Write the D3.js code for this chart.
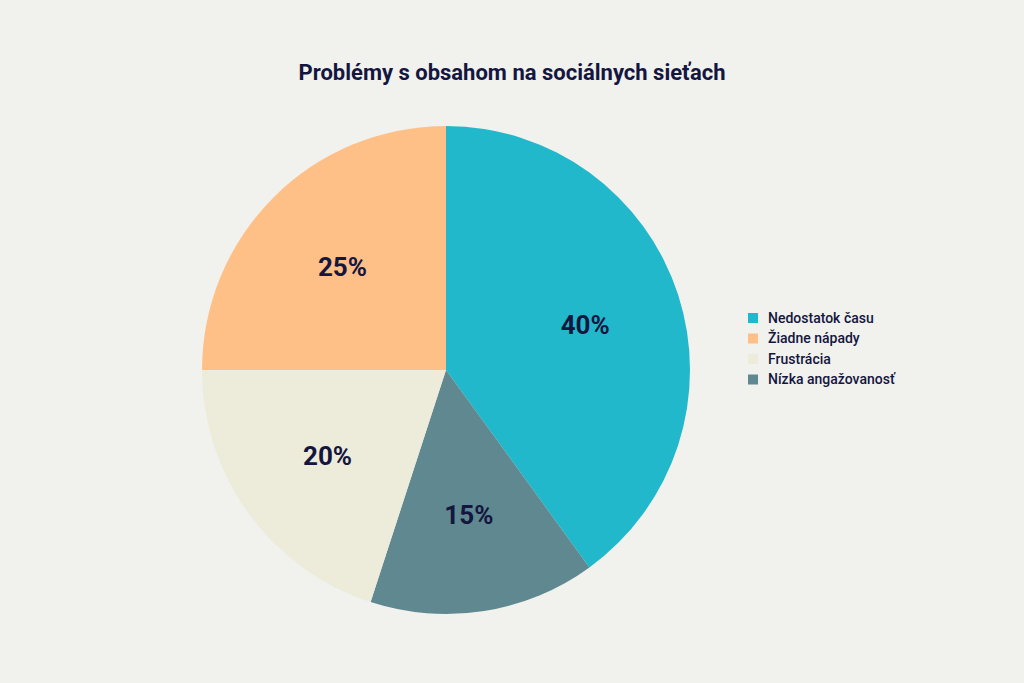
<!DOCTYPE html>
<html><head><meta charset="utf-8">
<script src="https://cdn.jsdelivr.net/npm/d3@7"></script>
<style>body{margin:0;background:#f1f1ed;font-family:Roboto,sans-serif;}</style>
</head><body>
<svg id="chart" width="1024" height="683"></svg>
<script>
const categories = ["Nedostatok času", "Žiadne nápady", "Frustrácia", "Nízka angažovanosť"];
const values = [40, 25, 20, 15];
const colors = ["#22b8cc", "#ffc088", "#edebd9", "#5f8890"];
// drawing order clockwise from top
const pieOrder = [0, 3, 2, 1];

const svg = d3.select("#chart");
svg.append("rect").attr("width", 1024).attr("height", 683).attr("fill", "#f1f1ed");

svg.append("text").attr("x", 512).attr("y", 80).attr("text-anchor", "middle")
  .attr("font-size", 22).attr("font-weight", 700).attr("fill", "#14163f")
  .text("Problémy s obsahom na sociálnych sieťach");

const cx = 446, cy = 370, r = 244;
const pie = d3.pie().sort(null).value(i => values[i]);
const arc = d3.arc().innerRadius(0).outerRadius(r);
const labelArc = d3.arc().innerRadius(r * 0.6).outerRadius(r * 0.6);
const g = svg.append("g").attr("transform", `translate(${cx},${cy})`);
const arcs = pie(pieOrder);
g.selectAll("path").data(arcs).join("path")
  .attr("d", arc).attr("fill", d => colors[d.data]);
g.selectAll("text").data(arcs).join("text")
  .attr("transform", d => `translate(${labelArc.centroid(d)})`)
  .attr("text-anchor", "middle").attr("dy", "0.35em")
  .attr("font-size", 26).attr("font-weight", 700).attr("fill", "#14163f")
  .text(d => values[d.data] + "%");

const leg = svg.append("g").attr("transform", "translate(748,318)");
categories.forEach((c, i) => {
  const row = leg.append("g").attr("transform", `translate(0,${i * 20.5})`);
  row.append("rect").attr("x", 0).attr("y", -5).attr("width", 10).attr("height", 10).attr("fill", colors[i]);
  row.append("text").attr("x", 20).attr("dy", "0.35em").attr("font-size", 14)
    .attr("font-weight", 500).attr("fill", "#14163f").text(c);
});
</script>
</body></html>
